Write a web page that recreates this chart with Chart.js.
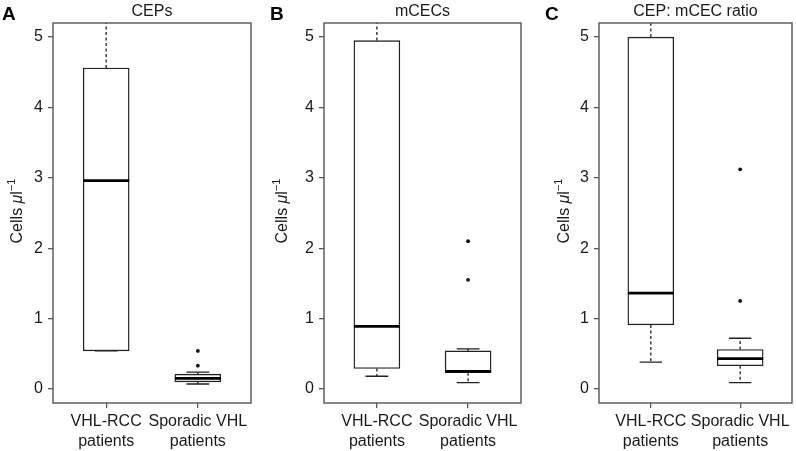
<!DOCTYPE html>
<html>
<head>
<meta charset="utf-8">
<script src="https://cdn.jsdelivr.net/npm/chart.js@4.4.1/dist/chart.umd.min.js"></script>
<style>
  body { margin: 0; background: #fff; }
  #wrap { position: relative; width: 796px; height: 451px; overflow: hidden; }
  canvas { position: absolute; top: 0; }
</style>
</head>
<body>
<div id="wrap">
  <canvas id="panelA" width="265" height="451" style="left:0px"></canvas>
  <canvas id="panelB" width="265" height="451" style="left:265px"></canvas>
  <canvas id="panelC" width="266" height="451" style="left:530px"></canvas>
</div>
<script>
const categories = [['VHL-RCC', 'patients'], ['Sporadic VHL', 'patients']];
const yTicks = [0, 1, 2, 3, 4, 5];
const panelLetters = ['A', 'B', 'C'];
const panelTitles = ['CEPs', 'mCECs', 'CEP: mCEC ratio'];

// A: CEPs
const cepsLow = [0.54, 0.07];
const cepsQ1 = [0.54, 0.10];
const cepsMedian = [2.96, 0.15];
const cepsQ3 = [4.56, 0.21];
const cepsHigh = [7.2, 0.24];
const cepsOutliers = [[], [0.54, 0.33]];

// B: mCECs
const mcecLow = [0.18, 0.09];
const mcecQ1 = [0.29, 0.23];
const mcecMedian = [0.89, 0.25];
const mcecQ3 = [4.95, 0.54];
const mcecHigh = [6.5, 0.57];
const mcecOutliers = [[], [2.10, 1.55]];

// C: CEP:mCEC ratio
const ratioLow = [0.38, 0.09];
const ratioQ1 = [0.91, 0.33];
const ratioMedian = [1.36, 0.43];
const ratioQ3 = [5.00, 0.56];
const ratioHigh = [8.0, 0.72];
const ratioOutliers = [[], [3.12, 1.25]];

const FONT = "'Liberation Sans', Arial, Helvetica, sans-serif";
const BOX_W = 46;

// whiskers, staples and medians
const boxPlot = {
  id: 'boxPlot',
  afterDatasetsDraw(chart, args, o) {
    const { ctx, chartArea: a, scales: { x, y } } = chart;
    ctx.save();
    ctx.beginPath();
    ctx.rect(a.left, a.top, a.right - a.left, a.bottom - a.top);
    ctx.clip();
    ctx.strokeStyle = '#222';
    o.low.forEach((lo, i) => {
      const cx = x.getPixelForValue(i + 1);
      const cap = x.getPixelForValue(i + 1.125) - cx;
      ctx.lineWidth = 1.3;
      ctx.setLineDash([3, 2.5]);
      ctx.beginPath();
      ctx.moveTo(cx, y.getPixelForValue(o.q3[i]));
      ctx.lineTo(cx, y.getPixelForValue(o.high[i]));
      ctx.moveTo(cx, y.getPixelForValue(o.q1[i]));
      ctx.lineTo(cx, y.getPixelForValue(lo));
      ctx.stroke();
      ctx.setLineDash([]);
      ctx.beginPath();
      [lo, o.high[i]].forEach(v => {
        const py = y.getPixelForValue(v);
        ctx.moveTo(cx - cap, py);
        ctx.lineTo(cx + cap, py);
      });
      ctx.stroke();
      ctx.lineWidth = 2.7;
      ctx.strokeStyle = '#000';
      const my = y.getPixelForValue(o.median[i]);
      ctx.beginPath();
      ctx.moveTo(cx - BOX_W / 2, my);
      ctx.lineTo(cx + BOX_W / 2, my);
      ctx.stroke();
      ctx.strokeStyle = '#222';
    });
    ctx.restore();
  }
};

// frame, panel letter, panel title, y title
const panelDecor = {
  id: 'panelDecor',
  afterDraw(chart, args, o) {
    const { ctx, chartArea: a } = chart;
    ctx.save();
    ctx.strokeStyle = '#555';
    ctx.lineWidth = 1.4;
    ctx.strokeRect(a.left, a.top, a.right - a.left, a.bottom - a.top);

    ctx.fillStyle = '#000';
    ctx.textBaseline = 'alphabetic';
    ctx.textAlign = 'left';
    ctx.font = 'bold 19px ' + FONT;
    ctx.fillText(o.letter, o.letterX, 20);

    ctx.fillStyle = '#1a1a1a';
    ctx.textAlign = 'center';
    ctx.font = '16px ' + FONT;
    ctx.fillText(o.title, (a.left + a.right) / 2, 16);

    // Cells μl^-1, rotated
    const parts = [
      { t: 'Cells ', f: '16px ' + FONT, dy: 0 },
      { t: 'μ', f: 'italic 16px ' + FONT, dy: 0 },
      { t: 'l', f: '16px ' + FONT, dy: 0 },
      { t: '−1', f: '11px ' + FONT, dy: -6 }
    ];
    let total = 0;
    parts.forEach(p => { ctx.font = p.f; p.w = ctx.measureText(p.t).width; total += p.w; });
    ctx.translate(o.yTitleX, o.yTitleY);
    ctx.rotate(-Math.PI / 2);
    ctx.textAlign = 'left';
    ctx.textBaseline = 'middle';
    let px = -total / 2;
    parts.forEach(p => {
      ctx.font = p.f;
      ctx.fillText(p.t, px, p.dy);
      px += p.w;
    });
    ctx.restore();
  }
};

function makePanel(id, idx, s, lay) {
  const boxData = s.q1.map((q, i) => ({ x: i + 1, y: [q, s.q3[i]] }));
  const outData = [];
  s.outliers.forEach((list, i) => list.forEach(v => outData.push({ x: i + 1, y: v })));

  const tickFont = { family: FONT, size: 16, lineHeight: 1.25 };
  new Chart(document.getElementById(id), {
    type: 'bar',
    data: {
      datasets: [
        {
          type: 'bar',
          data: boxData,
          backgroundColor: '#fff',
          borderColor: '#222',
          borderWidth: 1.4,
          borderSkipped: false,
          barThickness: BOX_W
        },
        {
          type: 'scatter',
          data: outData,
          pointRadius: 1.9,
          backgroundColor: '#111',
          borderWidth: 0
        }
      ]
    },
    options: {
      responsive: false,
      animation: false,
      layout: { padding: { top: 23, right: lay.right, left: 0, bottom: 0 } },
      plugins: {
        legend: { display: false },
        tooltip: { enabled: false },
        boxPlot: { low: s.low, q1: s.q1, median: s.median, q3: s.q3, high: s.high },
        panelDecor: {
          letter: panelLetters[idx], title: panelTitles[idx],
          letterX: lay.letterX, yTitleX: lay.yTitleX, yTitleY: 211
        }
      },
      scales: {
        x: {
          type: 'linear',
          min: 0.42,
          max: 2.58,
          offset: false,
          afterBuildTicks: sc => { sc.ticks = categories.map((c, i) => ({ value: i + 1 })); },
          afterFit: sc => { sc.height = 48; },
          ticks: {
            callback: v => categories[v - 1],
            maxRotation: 0,
            autoSkip: false,
            padding: 4,
            color: '#1a1a1a',
            font: tickFont
          },
          grid: { offset: false, drawOnChartArea: false, tickLength: 5, color: '#555', lineWidth: 1.3 },
          border: { display: false }
        },
        y: {
          min: -0.2,
          max: 5.2,
          afterBuildTicks: sc => { sc.ticks = yTicks.map(v => ({ value: v })); },
          afterFit: sc => { sc.width = lay.left; },
          ticks: { padding: 5, color: '#1a1a1a', font: tickFont },
          grid: { drawOnChartArea: false, tickLength: 5, color: '#555', lineWidth: 1.3 },
          border: { display: false }
        }
      }
    },
    plugins: [boxPlot, panelDecor]
  });
}

makePanel('panelA', 0, { low: cepsLow, q1: cepsQ1, median: cepsMedian, q3: cepsQ3, high: cepsHigh, outliers: cepsOutliers },
  { left: 53, right: 14, letterX: 2, yTitleX: 18 });
makePanel('panelB', 1, { low: mcecLow, q1: mcecQ1, median: mcecMedian, q3: mcecQ3, high: mcecHigh, outliers: mcecOutliers },
  { left: 59, right: 9, letterX: 5, yTitleX: 18 });
makePanel('panelC', 2, { low: ratioLow, q1: ratioQ1, median: ratioMedian, q3: ratioQ3, high: ratioHigh, outliers: ratioOutliers },
  { left: 69, right: 2, letterX: 15, yTitleX: 35 });
</script>
</body>
</html>
